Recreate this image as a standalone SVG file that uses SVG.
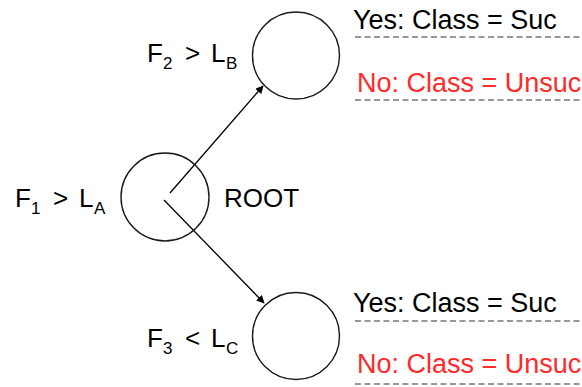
<svg xmlns="http://www.w3.org/2000/svg" width="582" height="387" viewBox="0 0 582 387">
  <style>
    .node { fill: none; stroke: #1a1a1a; stroke-width: 1.4; }
    .lbl { font-family: "Liberation Sans", Arial, sans-serif; font-size: 26px; fill: #000; }
    .sub { font-size: 17px; }
    .root { font-family: "Liberation Sans", Arial, sans-serif; font-size: 26px; fill: #000; }
    .yes { font-family: "Liberation Sans", Arial, sans-serif; font-size: 27px; fill: #000; }
    .no { font-family: "Liberation Sans", Arial, sans-serif; font-size: 27px; fill: #ff2a2a; }
    .dash { stroke: #333; stroke-width: 1.2; stroke-dasharray: 6 3.5; }
    .edge { stroke: #000; stroke-width: 1.3; fill: none; marker-end: url(#arrow); }
  </style>
  <defs>
    <marker id="arrow" viewBox="0 0 10 10" refX="9" refY="5" markerWidth="9" markerHeight="8" markerUnits="userSpaceOnUse" orient="auto">
      <path d="M0,0 L10,5 L0,10 z" fill="#000"/>
    </marker>
  </defs>

  <rect width="582" height="387" fill="#fff"/>

  <!-- edges from the root to the two children -->
  <g id="connectors">
    <line class="edge" x1="170" y1="193" x2="263" y2="86"/>
    <line class="edge" x1="164" y1="200" x2="264" y2="303"/>
  </g>

  <!-- root node: F1 > LA -->
  <g id="root">
    <circle class="node" cx="165" cy="197" r="44"/>
    <text class="lbl" x="15" y="207">F<tspan class="sub" x="31" y="214">1</tspan><tspan x="53" y="207">&gt;</tspan><tspan x="79" y="207">L</tspan><tspan class="sub" x="94" y="214">A</tspan></text>
    <text class="root" x="224" y="207">ROOT</text>
  </g>

  <!-- upper child: F2 > LB -->
  <g id="node-b">
    <circle class="node" cx="296" cy="55.5" r="43.5"/>
    <text class="lbl" x="147" y="62">F<tspan class="sub" x="163" y="69">2</tspan><tspan x="185" y="62">&gt;</tspan><tspan x="211" y="62">L</tspan><tspan class="sub" x="226" y="69">B</tspan></text>
    <text class="yes" x="353" y="29">Yes: Class = Suc</text>
    <line class="dash" x1="355" y1="37" x2="582" y2="37"/>
    <text class="no" x="357" y="92">No: Class = Unsuc</text>
    <line class="dash" x1="355" y1="100" x2="582" y2="100"/>
  </g>

  <!-- lower child: F3 < LC -->
  <g id="node-c">
    <circle class="node" cx="296" cy="336" r="43.5"/>
    <text class="lbl" x="147" y="347">F<tspan class="sub" x="163" y="354">3</tspan><tspan x="185" y="347">&lt;</tspan><tspan x="211" y="347">L</tspan><tspan class="sub" x="226" y="354">C</tspan></text>
    <text class="yes" x="353" y="312">Yes: Class = Suc</text>
    <line class="dash" x1="355" y1="321" x2="582" y2="321"/>
    <text class="no" x="357" y="373">No: Class = Unsuc</text>
    <line class="dash" x1="355" y1="384" x2="582" y2="384"/>
  </g>
</svg>
